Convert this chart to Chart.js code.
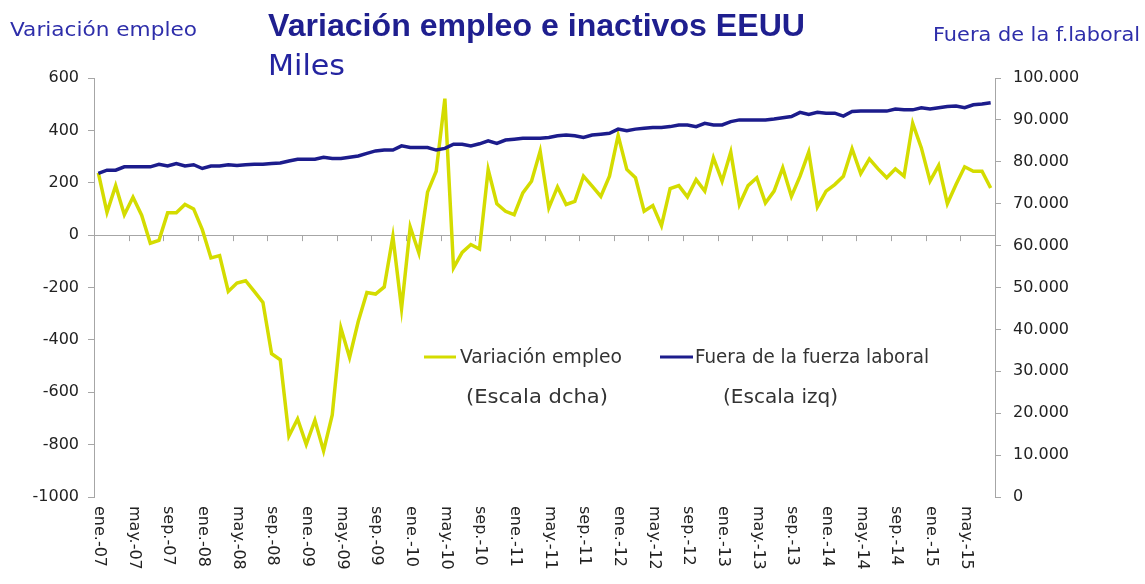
<!DOCTYPE html>
<html lang="es">
<head>
<meta charset="utf-8">
<title>Variación empleo e inactivos EEUU</title>
<script src="https://cdn.jsdelivr.net/npm/chart.js@4.4.1/dist/chart.umd.min.js"></script>
<style>
    body { margin: 0; background: #ffffff; }
    canvas { display: block; }
</style>
</head>
<body>
<canvas id="chartEmpleo" width="1145" height="584"></canvas>
<script>
// ===== DATOS =====
const meses = ['ene.', 'feb.', 'mar.', 'abr.', 'may.', 'jun.', 'jul.', 'ago.', 'sep.', 'oct.', 'nov.', 'dic.'];
const anios = ['07', '08', '09', '10', '11', '12', '13', '14', '15'];

// Variación mensual del empleo (miles) - escala izquierda
const variacionEmpleo = [
    238, 87, 189, 78, 145, 76, -31, -20, 85, 85, 117, 100,
    21, -87, -78, -215, -183, -174, -215, -257, -453, -476, -767, -702,
    -799, -707, -824, -687, -355, -467, -330, -219, -225, -198, -5, -280,
    31, -68, 164, 244, 521, -125, -66, -36, -53, 250, 120, 91,
    78, 161, 206, 321, 104, 184, 117, 129, 225, 187, 148, 225,
    381, 251, 219, 91, 113, 36, 178, 189, 146, 212, 168, 295,
    206, 317, 117, 189, 219, 123, 168, 257, 148, 225, 317, 108,
    168, 193, 225, 330, 235, 291, 253, 219, 253, 225, 427, 333,
    206, 266, 120, 193, 261, 244, 244, 180
];

// Fuera de la fuerza laboral (miles) - escala derecha
const fueraFuerzaLaboral = [
    77260, 78000, 78000, 78800, 78800, 78800, 78800, 79400, 79000, 79600, 79000, 79300,
    78400, 79000, 79000, 79300, 79100, 79300, 79400, 79400, 79600, 79700, 80200, 80600,
    80600, 80600, 81100, 80800, 80800, 81100, 81400, 82000, 82600, 82800, 82800, 83800,
    83400, 83400, 83400, 82800, 83200, 84200, 84200, 83800, 84300, 85000, 84400, 85200,
    85400, 85600, 85600, 85600, 85800, 86200, 86400, 86200, 85800, 86400, 86600, 86800,
    87800, 87400, 87800, 88000, 88200, 88200, 88400, 88800, 88800, 88400, 89200, 88800,
    88800, 89600, 90000, 90000, 90000, 90000, 90200, 90500, 90800, 91800, 91300, 91800,
    91600, 91600, 90900, 92000, 92100, 92100, 92100, 92100, 92600, 92400, 92400, 92900,
    92600, 92900, 93200, 93300, 92900, 93600, 93800, 94100
];

// Categorías mensuales: ene.-07 ... ago.-15
const categorias = [];
anios.forEach(function(a) {
    meses.forEach(function(m) {
        if (categorias.length < variacionEmpleo.length) {
            categorias.push(m + '-' + a);
        }
    });
});

const colorEmpleo = '#d4dc00';
const colorInactivos = '#1c1c8c';
const colorEje = '#a6a6a6';
const fuenteBase = '"DejaVu Sans", sans-serif';

// Dibuja un texto ajustado a un ancho dado
function textoAjustado(ctx, texto, x, y, ancho) {
    const w = ctx.measureText(texto).width;
    ctx.save();
    ctx.translate(x, y);
    ctx.scale(ancho / w, 1);
    ctx.fillText(texto, 0, 0);
    ctx.restore();
}

// Plugin: títulos, leyenda, etiquetas del eje X y marcas
const pluginDecoracion = {
    id: 'decoracion',
    afterDraw: function(chart) {
        const ctx = chart.ctx;
        const x = chart.scales.x;
        const yIzq = chart.scales.yIzq;
        const paso = x.getPixelForValue(1) - x.getPixelForValue(0);
        const yCero = yIzq.getPixelForValue(0);

        ctx.save();

        // marcas del eje X sobre la línea del cero
        ctx.strokeStyle = colorEje;
        ctx.lineWidth = 1;
        ctx.beginPath();
        for (let i = 4; i <= categorias.length; i += 4) {
            const px = Math.round(x.getPixelForValue(i) - paso / 2) + 0.5;
            ctx.moveTo(px, yCero);
            ctx.lineTo(px, yCero + 6);
        }
        ctx.stroke();

        // etiquetas del eje X (cada 4 meses, giradas)
        ctx.fillStyle = '#222222';
        ctx.font = '16px ' + fuenteBase;
        ctx.textAlign = 'left';
        ctx.textBaseline = 'middle';
        for (let i = 0; i < categorias.length; i += 4) {
            ctx.save();
            ctx.translate(x.getPixelForValue(i) + 1, chart.chartArea.bottom + 9);
            ctx.rotate(Math.PI / 2);
            ctx.fillText(categorias[i], 0, 0);
            ctx.restore();
        }

        // títulos
        ctx.textBaseline = 'alphabetic';
        ctx.fillStyle = '#1f1f8f';
        ctx.font = 'bold 31px "Liberation Sans", sans-serif';
        textoAjustado(ctx, 'Variación empleo e inactivos EEUU', 268, 36, 537);
        ctx.fillStyle = '#2424a0';
        ctx.font = '29px ' + fuenteBase;
        textoAjustado(ctx, 'Miles', 268, 75, 77);

        ctx.fillStyle = '#2e2eaa';
        ctx.font = '19px ' + fuenteBase;
        textoAjustado(ctx, 'Variación empleo', 10, 36, 187);
        textoAjustado(ctx, 'Fuera de la f.laboral', 933, 41, 207);

        // leyenda
        ctx.lineWidth = 3;
        ctx.strokeStyle = colorEmpleo;
        ctx.beginPath();
        ctx.moveTo(424, 357);
        ctx.lineTo(456, 357);
        ctx.stroke();
        ctx.strokeStyle = colorInactivos;
        ctx.beginPath();
        ctx.moveTo(660, 357);
        ctx.lineTo(693, 357);
        ctx.stroke();

        ctx.fillStyle = '#333333';
        ctx.font = '19px ' + fuenteBase;
        textoAjustado(ctx, 'Variación empleo', 460, 363, 162);
        textoAjustado(ctx, 'Fuera de la fuerza laboral', 695, 363, 234);
        textoAjustado(ctx, '(Escala dcha)', 466, 403, 142);
        textoAjustado(ctx, '(Escala izq)', 723, 403, 115);

        ctx.restore();
    }
};

document.addEventListener('DOMContentLoaded', function() {
    const ctxEmpleo = document.getElementById('chartEmpleo');

    new Chart(ctxEmpleo, {
        type: 'line',
        data: {
            labels: categorias,
            datasets: [
                {
                    label: 'Variación empleo',
                    data: variacionEmpleo,
                    yAxisID: 'yIzq',
                    borderColor: colorEmpleo,
                    borderWidth: 3.5,
                    pointRadius: 0,
                    tension: 0,
                    order: 2
                },
                {
                    label: 'Fuera de la fuerza laboral',
                    data: fueraFuerzaLaboral,
                    yAxisID: 'yDcha',
                    borderColor: colorInactivos,
                    borderWidth: 3.5,
                    pointRadius: 0,
                    tension: 0,
                    order: 1
                }
            ]
        },
        options: {
            responsive: false,
            animation: false,
            layout: {
                padding: { top: 78, left: 0, right: 0, bottom: 0 }
            },
            plugins: {
                legend: { display: false },
                tooltip: { enabled: false }
            },
            scales: {
                x: {
                    offset: true,
                    grid: { display: false },
                    border: { display: false },
                    ticks: { display: false },
                    afterFit: function(scale) { scale.height = 87; }
                },
                yIzq: {
                    position: 'left',
                    min: -1000,
                    max: 600,
                    ticks: {
                        stepSize: 200,
                        color: '#222222',
                        font: { family: fuenteBase, size: 16 },
                        padding: 9,
                        callback: function(v) {
                            return String(v);
                        }
                    },
                    grid: {
                        color: function(c) {
                            return c.tick && c.tick.value === 0 ? colorEje : 'rgba(0,0,0,0)';
                        },
                        tickColor: colorEje,
                        tickLength: 6
                    },
                    border: { color: colorEje },
                    afterFit: function(scale) { scale.width = 94; }
                },
                yDcha: {
                    position: 'right',
                    min: 0,
                    max: 100000,
                    ticks: {
                        stepSize: 10000,
                        color: '#222222',
                        font: { family: fuenteBase, size: 16 },
                        padding: 12,
                        callback: function(v) {
                            return v.toLocaleString('de-DE');
                        }
                    },
                    grid: {
                        drawOnChartArea: false,
                        tickColor: colorEje,
                        tickLength: 6
                    },
                    border: { color: colorEje },
                    afterFit: function(scale) { scale.width = 150; }
                }
            }
        },
        plugins: [pluginDecoracion]
    });
});
</script>
</body>
</html>
